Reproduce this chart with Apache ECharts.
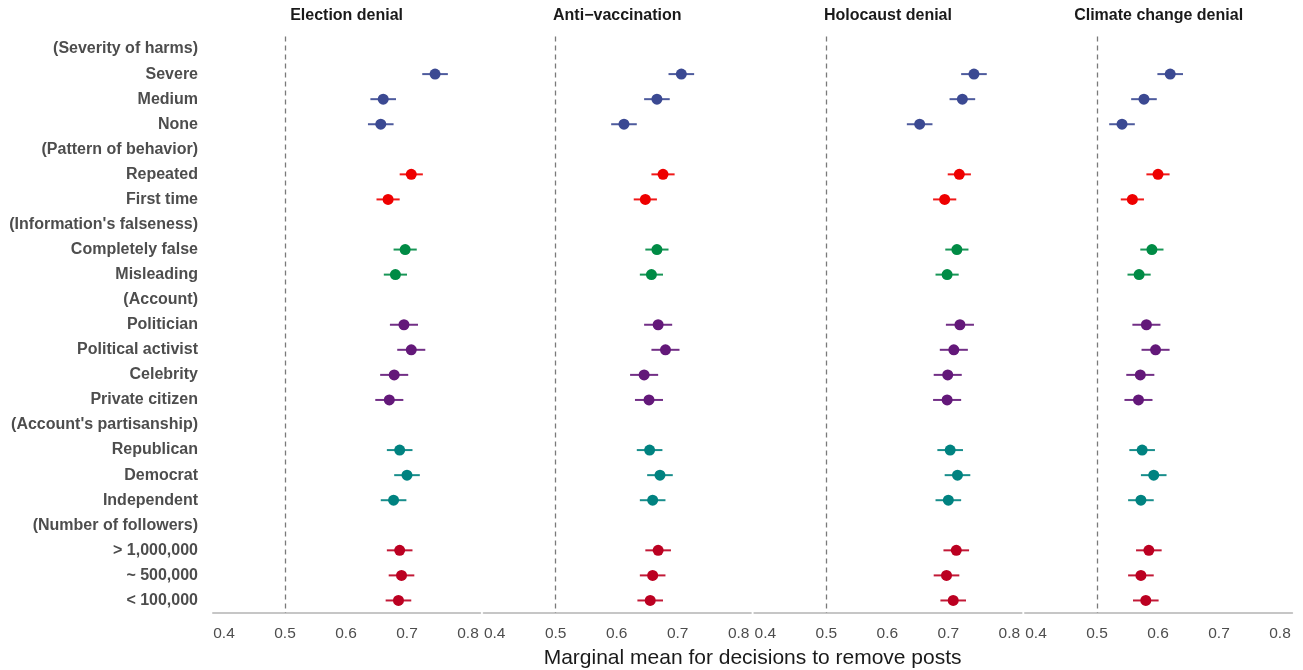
<!DOCTYPE html>
<html>
<head>
<meta charset="utf-8">
<title>Marginal means by topic</title>
<script src="https://cdn.jsdelivr.net/npm/echarts@6/dist/echarts.min.js"></script>
<style>
  html, body { margin: 0; padding: 0; background: #ffffff; }
  #chart { width: 1303px; height: 670px; }
</style>
</head>
<body>
<div id="chart"></div>
<script>
// Attribute levels, top to bottom (group headers in parentheses)
const categories = [
  '(Severity of harms)', 'Severe', 'Medium', 'None',
  '(Pattern of behavior)', 'Repeated', 'First time',
  "(Information's falseness)", 'Completely false', 'Misleading',
  '(Account)', 'Politician', 'Political activist', 'Celebrity', 'Private citizen',
  "(Account's partisanship)", 'Republican', 'Democrat', 'Independent',
  '(Number of followers)', '> 1,000,000', '~ 500,000', '< 100,000'
];

// Facet titles
const topics = ['Election denial', 'Anti\u2212vaccination', 'Holocaust denial', 'Climate change denial'];

// Marginal means per topic (null on header rows)
const electionDenial = [null, 0.746, 0.661, 0.657, null, 0.707, 0.669, null, 0.697, 0.681, null, 0.695, 0.707, 0.679, 0.671, null, 0.688, 0.700, 0.678, null, 0.688, 0.691, 0.686];
const antiVaccination = [null, 0.706, 0.666, 0.612, null, 0.676, 0.647, null, 0.666, 0.657, null, 0.668, 0.680, 0.645, 0.653, null, 0.654, 0.671, 0.659, null, 0.668, 0.659, 0.655];
const holocaustDenial = [null, 0.742, 0.723, 0.653, null, 0.718, 0.694, null, 0.714, 0.698, null, 0.719, 0.709, 0.699, 0.698, null, 0.703, 0.715, 0.700, null, 0.713, 0.697, 0.708];
const climateDenial = [null, 0.620, 0.577, 0.541, null, 0.600, 0.558, null, 0.590, 0.569, null, 0.581, 0.596, 0.571, 0.568, null, 0.574, 0.593, 0.572, null, 0.585, 0.572, 0.580];

// Half-width of the 95% confidence interval for each row
const ciHalf = [null, 0.021, 0.021, 0.021, null, 0.019, 0.019, null, 0.019, 0.019, null, 0.023, 0.023, 0.023, 0.023, null, 0.021, 0.021, 0.021, null, 0.021, 0.021, 0.021];

// Attribute group colour for each row
const rowColors = [
  null, '#3B4992', '#3B4992', '#3B4992',
  null, '#EE0000', '#EE0000',
  null, '#008B45', '#008B45',
  null, '#631879', '#631879', '#631879', '#631879',
  null, '#008280', '#008280', '#008280',
  null, '#BB0021', '#BB0021', '#BB0021'
];

const xTicks = [0.4, 0.5, 0.6, 0.7, 0.8];
const xTitle = 'Marginal mean for decisions to remove posts';

const panelValues = [electionDenial, antiVaccination, holocaustDenial, climateDenial];

const FONT = "'Liberation Sans', Arial, Helvetica, sans-serif";
const plotLeft = 213;
const panelStep = 270.67;
const panelWidth = 267.2;
const plotTop = 36.5;
const plotHeight = 576.5;

const grids = [], xAxes = [], yAxes = [], series = [], graphics = [];

panelValues.forEach((vals, p) => {
  const left = plotLeft + p * panelStep;
  grids.push({ left: left, top: plotTop, width: panelWidth, height: plotHeight, containLabel: false });

  xAxes.push({
    type: 'value', gridIndex: p, min: 0.382, max: 0.82,
    axisLine: { show: true, lineStyle: { color: '#c6c6c6', width: 2 } },
    axisTick: { show: false },
    splitLine: { show: false },
    axisLabel: {
      customValues: xTicks,
      formatter: v => v.toFixed(1),
      color: '#4d4d4d', fontSize: 15.5, fontFamily: FONT, margin: 13
    }
  });

  yAxes.push({
    type: 'category', gridIndex: p, data: categories, inverse: true,
    boundaryGap: true,
    axisLine: { show: false }, axisTick: { show: false }, splitLine: { show: false },
    axisLabel: {
      show: p === 0, color: '#4d4d4d', fontSize: 16, fontWeight: 'bold',
      fontFamily: FONT, margin: 15, interval: 0
    }
  });

  const barData = [], pointData = [];
  vals.forEach((v, i) => {
    if (v === null) return;
    barData.push({ value: [v - ciHalf[i], v + ciHalf[i], i], itemStyle: { color: rowColors[i] } });
    pointData.push({ value: [v, i], itemStyle: { color: rowColors[i], opacity: 1 } });
  });

  series.push({
    type: 'custom', xAxisIndex: p, yAxisIndex: p, silent: true, z: 2,
    encode: { x: [0, 1], y: 2 },
    data: barData,
    renderItem: (params, api) => {
      const a = api.coord([api.value(0), api.value(2)]);
      const b = api.coord([api.value(1), api.value(2)]);
      return {
        type: 'line',
        shape: { x1: a[0], y1: a[1], x2: b[0], y2: b[1] },
        style: { stroke: api.visual('color'), lineWidth: 2, opacity: 0.9 }
      };
    }
  });

  series.push({
    type: 'scatter', xAxisIndex: p, yAxisIndex: p, z: 3,
    symbol: 'circle', symbolSize: 11,
    itemStyle: { opacity: 1 },
    data: pointData,
    markLine: {
      silent: true, symbol: 'none', animation: false,
      label: { show: false },
      lineStyle: { color: '#7a7a7a', type: [5, 4], width: 1.3 },
      data: [{ xAxis: 0.5 }]
    }
  });

  graphics.push({
    type: 'text',
    x: left + panelWidth / 2, y: 16,
    style: {
      text: topics[p], fill: '#1a1a1a', font: 'bold 16px ' + FONT,
      textAlign: 'center', textVerticalAlign: 'middle'
    }
  });
});

graphics.push({
  type: 'text',
  x: plotLeft + (3 * panelStep + panelWidth) / 2, y: 658,
  style: {
    text: xTitle, fill: '#1a1a1a', font: '21px ' + FONT,
    textAlign: 'center', textVerticalAlign: 'middle'
  }
});

const chart = echarts.init(document.getElementById('chart'), null, { renderer: 'canvas' });
chart.setOption({
  animation: false,
  backgroundColor: '#ffffff',
  grid: grids,
  xAxis: xAxes,
  yAxis: yAxes,
  series: series,
  graphic: graphics
});
</script>
</body>
</html>
